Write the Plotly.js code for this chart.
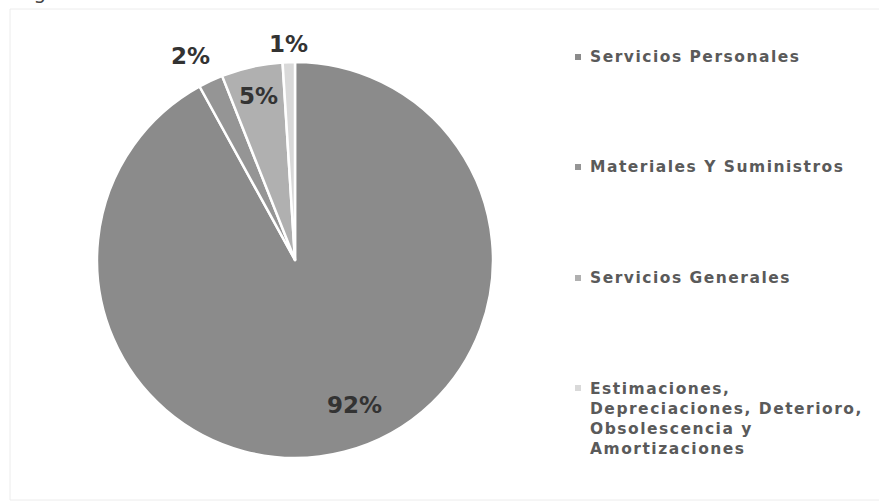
<!DOCTYPE html>
<html>
<head>
<meta charset="utf-8">
<script src="https://cdn.plot.ly/plotly-3.0.1.min.js"></script>
<style>
html,body{margin:0;padding:0;background:#fff;}
#chart{width:879px;height:504px;}
.legtext .annotation-text{letter-spacing:1.5px;}
</style>
</head>
<body>
<div id="chart"></div>
<script>
const labels = ["Servicios Personales", "Materiales Y Suministros", "Servicios Generales", "Estimaciones, Depreciaciones, Deterioro, Obsolescencia y Amortizaciones"];
const legendText = ["Servicios Personales", "Materiales Y Suministros", "Servicios Generales", "Estimaciones,<br>Depreciaciones, Deterioro,<br>Obsolescencia y<br>Amortizaciones"];
const values = [92, 2, 5, 1];
const colors = ["#8b8b8b", "#959595", "#b0b0b0", "#d9d9d9"];
// placement of each percentage label: fraction of the radius, and angle shift (degrees)
const labelRadius = [0.79, 1.16, 0.85, 1.09];
const labelAngleShift = [-8, -2, 0, 0];

const W = 879, H = 504;
const cx = 295, cy = 260, r = 198;

const trace = {
  type: "pie",
  labels: labels,
  values: values,
  sort: false,
  direction: "clockwise",
  rotation: 0,
  marker: {colors: colors, line: {color: "#ffffff", width: 2.5}},
  textinfo: "none",
  hoverinfo: "label+percent",
  domain: {x: [(cx - r) / W, (cx + r) / W], y: [(H - cy - r) / H, (H - cy + r) / H]},
  showlegend: false
};

const total = values.reduce((a, b) => a + b, 0);
const annotations = [];
const shapes = [];

// percentage labels, placed along each slice's mid angle
let cum = 0;
values.forEach((v, i) => {
  const mid = (cum + v / 2) / total * 2 * Math.PI + labelAngleShift[i] * Math.PI / 180;
  cum += v;
  const d = labelRadius[i] * r;
  const px = cx + d * Math.sin(mid);
  const py = cy - d * Math.cos(mid);
  annotations.push({
    xref: "paper", yref: "paper", x: px / W, y: 1 - py / H,
    xanchor: "center", yanchor: "middle", showarrow: false,
    text: Math.round(v / total * 100) + "%",
    font: {family: "DejaVu Sans", size: 23, color: "#333333", weight: "bold"}
  });
});

const legendY = [57, 167, 278, 378];
labels.forEach((lab, i) => {
  const multi = legendText[i].indexOf("<br>") >= 0;
  annotations.push({
    xref: "paper", yref: "paper",
    x: 588 / W, y: 1 - legendY[i] / H,
    xanchor: "left", yanchor: multi ? "top" : "middle",
    align: "left",
    showarrow: false,
    text: legendText[i],
    font: {family: "DejaVu Sans", size: 15.5, color: "#5a5a5a", weight: "bold"}
  });
  const my = multi ? legendY[i] + 10 : legendY[i];
  shapes.push({
    type: "rect", xref: "paper", yref: "paper",
    x0: 575 / W, x1: 581 / W, y0: 1 - (my + 3) / H, y1: 1 - (my - 3) / H,
    fillcolor: colors[i], line: {width: 0}
  });
});

annotations.push({
  xref: "paper", yref: "paper", x: 8 / W, y: 1 - 6 / H,
  xanchor: "left", yanchor: "bottom", showarrow: false,
  text: "Organismo.", font: {family: "DejaVu Sans", size: 20, color: "#444444"}
});
shapes.push({
  type: "rect", xref: "paper", yref: "paper",
  x0: 10 / W, x1: 1.01, y0: 1 - 500 / H, y1: 1 - 9 / H,
  line: {color: "#ececec", width: 1}, fillcolor: "rgba(0,0,0,0)", layer: "below"
});

const layout = {
  width: W, height: H,
  margin: {l: 0, r: 0, t: 0, b: 0},
  paper_bgcolor: "#ffffff",
  plot_bgcolor: "#ffffff",
  showlegend: false,
  annotations: annotations,
  shapes: shapes
};

Plotly.newPlot("chart", [trace], layout, {displayModeBar: false, staticPlot: true}).then(() => {
  // widen the legend lettering a little, like the reference's wide typeface
  const anns = document.querySelectorAll(".annotation");
  anns.forEach((g, idx) => {
    if (idx >= values.length && idx < values.length + labels.length) g.classList.add("legtext");
  });
});
</script>
</body>
</html>
